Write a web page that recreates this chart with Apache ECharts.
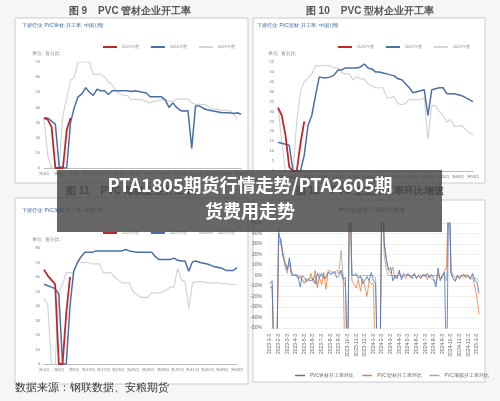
<!DOCTYPE html>
<html><head><meta charset="utf-8">
<script src="https://cdn.jsdelivr.net/npm/echarts@6/dist/echarts.min.js"></script>
<style>html,body{margin:0;padding:0;background:#f6f6f6}#c{width:500px;height:401px}</style>
</head><body><div id="c"></div>
<script>
const weeks = Array.from({length:53},(_,i)=>'第'+(i+1)+'周');
const seriesNames = ['2025年度','2024年度','2023年度'];
// Fig 9 PVC pipe
const red1 = [33,32,27,0,0,0,25,33];
const blue1 = [33,33,31,29,1,0,0,30,40,47,49,53,50,48,52,51,51,48.5,51,51,51,51,51,50.5,51,50.5,50,49.5,47,47,47,47,45,40,43,40,38,37.5,38,13,41,41,39.5,38.5,38,37.5,37,36.5,36.5,36.5,36,36.5,35.5];
const gray1 = [33,8,0,0,0,35,46,58,60,70,70,70,70,62,62,62,60,57,55,51,49,48,48,45,45.5,45,45,44,43,44,44.5,45,45,44,44,45.5,45.5,45.5,45.5,43,42,42,42,41.5,39,39,38.5,38,38,38,36,32];
// Fig 10 PVC profile
const red2 = [32,28,18,2,0,0,14,25];
const blue2 = [14.5,14,13.5,13,0,0,0,8,23,28,38,47.5,47,47,47.5,48.5,51,51,52,52,52,52,52.5,54,52,51.5,50,50,49.5,49,48.5,48,46.5,46,44,42,39.5,40,40.5,41,28,41,41.5,42,42,39,39,39,38.5,38,37,36,35];
const gray2 = [32,15,0,0,0,25,40,45,47,49,53,53,53.5,53,53,52,52,49.5,49,49,46,47.5,46.5,46.5,44,43,42,42,42,37,37,37.5,34,33.5,34,36,36,36,36,37,16,33,33,30,28,24.5,26,22.5,22.5,23,21,19.5,18];
// Fig 11 PVC film
const red3 = [65,61,58,55,0,0,35,60];
const blue3 = [55,54,53,52,48,0,0,40,64,70,74,77,77,77,78,78,78,78,78,78,78,78,79,78,77.5,77,77,77,77,77,74,72,72,72,72,73,71.5,71,71,64,70.5,71,70,69.5,69,68,67,66.5,66,64.5,64.5,64.5,66.5];
const gray3 = [45,41,0,0,50,55,63,63,63,70,70,70,70,69,69,69,63,63,63,60,58,56,56,56,50,48,46,46,46,49,49,49,50,51,53,53,66,58,57,38,56,56.5,57,56.5,56,56,56,56,55.5,55.5,55,55,54.5];
// Fig 12 week-on-week change
const months = ['2023-1-3','2023-2-3','2023-3-3','2023-4-3','2023-5-3','2023-6-3','2023-7-3','2023-8-3','2023-9-3','2023-10-3','2023-11-3','2023-12-3','2024-1-3','2024-2-3','2024-3-3','2024-4-3','2024-5-3','2024-6-3','2024-7-3','2024-8-3','2024-9-3','2024-10-3','2024-11-3','2024-12-3','2025-1-3'];
const chgNames = ['PVC管材开工率环比','PVC型材开工率环比','PVC薄膜开工率环比'];
const chgPipe = [-8,-5,-100,-100, 40,33,18,12, 5,17,2,0, 1,0,-11,0, -2,-6,-4,-5, -3,-8,2,-2, 2,-3,-1,3, 1,2,3,-2, 0,5,-3,-2, -100,100,1,0, 2,-3,0,-8, -5,-1,-5,3, -5,-8,-100,-100, 100,30,15,5, 8,-5,0,-3, 5,-4,2,0, 1,0,-3,2, -2,0,-3,1, -1,2,-2,1, -3,-11,7,-5, 0,3,-100,100, 2,-3,-5,0, -3,0,1,-2, 0,-3,2,-5, -6,-17];
const chgProfile = [-12,-10,-100,-100, 30,35,22,12, 8,10,3,0, 0,-2,0,-5, -8,-3,-5,2, -6,5,-10,-2, -9,3,-13,5, 4,2,3,5, 3,2,-5,-100, -100,100,-5,-8, -12,-4,-15,-3, -10,-20,-5,-8, -8,-100,-100,-100, 100,33,15,5, 2,8,-3,0, 3,-2,0,-3, 2,-2,0,1, -3,0,-2,0, 1,-4,0,-3, -5,-8,2,-3, -2,5,8,100, 3,-2,-6,0, -3,0,-2,1, -1,-4,-2,-10, -20,-37];
const chgFilm = [-12,-10,-100,-100, 45,30,20,8, 2,15,0,0, 0,-3,-2,-4, -6,-4,-3,-2, -4,0,-12,2, 0,-2,-3,3, 2,4,3,2, 3,24,-3,-12, -100,100,0,0, 0,0,-2,0, 0,0,0,0, 0,-2,-100,-100, 100,20,5,0, 0,0,0,0, 0,0,-1,0, 0,0,0,0, -2,0,0,0, 0,-1,0,0, 0,0,0,-2, 0,0,-5,100, 5,0,-2,0, 0,0,0,0, 0,-2,0,-3, -3,-5];
const chgCats = [];
months.forEach(m=>{for(let k=0;k<4;k++) chgCats.push(k===0?m:m+'#'+k);});
chgCats.length = chgPipe.length;

const cRed='#c0272d', cBlue='#4a6fa5', cGray='#d4d4d4';
const lab = {fontSize:4,color:'#777',margin:4};
function wkX(gi){return {type:'category',gridIndex:gi,data:weeks,boundaryGap:false,axisTick:{show:false},axisLine:{lineStyle:{color:'#bbb'}},axisLabel:Object.assign({interval:3,hideOverlap:false},lab)};}
function wkY(gi,max,iv){return {type:'value',gridIndex:gi,min:0,max:max,interval:iv,splitLine:{show:false},axisLine:{show:false},axisTick:{show:false},axisLabel:lab};}
function ln(name,gi,data,color,w){return {name:name,type:'line',xAxisIndex:gi,yAxisIndex:gi,data:data,showSymbol:false,lineStyle:{color:color,width:w},itemStyle:{color:color}};}
const leg = (l,t)=>({left:l,top:t,data:seriesNames,itemWidth:14,itemHeight:2,itemGap:12,textStyle:{fontSize:4,color:'#888'},icon:'rect'});

const chart = echarts.init(document.getElementById('c'));
chart.setOption({
  animation:false,
  backgroundColor:'#f6f6f6',
  grid:[
    {left:44,right:259,top:62,bottom:233},
    {left:278,right:27,top:62,bottom:230},
    {left:44,right:263,top:248,bottom:37},
    {left:270,right:21,top:223,bottom:73}
  ],
  legend:[leg(98,40),leg(333,40),leg(98,226),
    {left:290,top:368,width:200,data:chgNames,itemWidth:10,itemHeight:1.5,itemGap:8,textStyle:{fontSize:4.5,color:'#666'},icon:'rect'}],
  xAxis:[wkX(0),wkX(1),wkX(2),
    {type:'category',gridIndex:3,data:chgCats,boundaryGap:false,axisTick:{show:false},axisLine:{show:false},
     axisLabel:{interval:3,rotate:90,fontSize:5,color:'#666',margin:6,formatter:v=>v.split('#')[0]}}],
  yAxis:[wkY(0,70,10),wkY(1,55,5),wkY(2,80,10),
    {type:'value',gridIndex:3,min:-50,max:50,interval:10,axisLine:{show:false},axisTick:{show:false},
     splitLine:{lineStyle:{color:'#eee'}},axisLabel:{fontSize:5,color:'#666',formatter:'{value}%'}}],
  series:[
    ln('2023年度',0,gray1,cGray,1.2), ln('2024年度',0,blue1,cBlue,1.5), ln('2025年度',0,red1,cRed,1.8),
    ln('2023年度',1,gray2,cGray,1.2), ln('2024年度',1,blue2,cBlue,1.5), ln('2025年度',1,red2,cRed,1.8),
    ln('2023年度',2,gray3,cGray,1.2), ln('2024年度',2,blue3,cBlue,1.5), ln('2025年度',2,red3,cRed,1.8),
    ln(chgNames[2],3,chgFilm,'#a5a5a5',0.8), ln(chgNames[1],3,chgProfile,'#ed7d31',0.8), ln(chgNames[0],3,chgPipe,'#4472c4',0.8)
  ],
  graphic:[
    {type:'rect',shape:{x:15,y:18,width:233,height:165},style:{fill:'#fff',stroke:'#ccc',lineWidth:1},z:-10},
    {type:'rect',shape:{x:253,y:18,width:232,height:165},style:{fill:'#fff',stroke:'#ccc',lineWidth:1},z:-10},
    {type:'rect',shape:{x:15,y:198,width:233,height:186},style:{fill:'#fff',stroke:'#ccc',lineWidth:1},z:-10},
    {type:'rect',shape:{x:253,y:200,width:232,height:182},style:{fill:'#fff',stroke:'#ccc',lineWidth:1},z:-10},
    {type:'text',x:130,y:6,style:{text:'图 9    PVC 管材企业开工率',fontSize:10,fontWeight:'bold',fill:'#555',align:'center'}},
    {type:'text',x:370,y:6,style:{text:'图 10    PVC 型材企业开工率',fontSize:10,fontWeight:'bold',fill:'#555',align:'center'}},
    {type:'text',x:130,y:186,style:{text:'图 11    PVC 薄膜企业开工率',fontSize:10,fontWeight:'bold',fill:'#555',align:'center'}},
    {type:'text',x:370,y:186,style:{text:'图 12    PVC 企业开工率环比增速',fontSize:10,fontWeight:'bold',fill:'#555',align:'center'}},
    {type:'text',x:22,y:23,style:{text:'下游行业: PVC管材: 开工率: 中国 (周)',fontSize:4.5,fill:'#2a5a9a'}},
    {type:'text',x:257,y:23,style:{text:'下游行业: PVC型材: 开工率: 中国 (周)',fontSize:4.5,fill:'#2a5a9a'}},
    {type:'text',x:22,y:208,style:{text:'下游行业: PVC薄膜: 开工率: 中国 (周)',fontSize:4.5,fill:'#2a5a9a'}},
    {type:'text',x:32,y:51,style:{text:'单位: 百分比',fontSize:4.5,fill:'#888'}},
    {type:'text',x:268,y:51,style:{text:'单位: 百分比',fontSize:4.5,fill:'#888'}},
    {type:'text',x:32,y:237,style:{text:'单位: 百分比',fontSize:4.5,fill:'#888'}},
    {type:'text',x:372,y:207,style:{text:'PVC企业开工率环比增速',fontSize:6,fill:'#555',align:'center'}},
    {type:'text',x:15,y:382,style:{text:'数据来源：钢联数据、安粮期货',fontSize:11,fill:'#333'}},
    {type:'rect',shape:{x:57,y:170,width:385,height:62},style:{fill:'rgba(70,70,70,0.82)'},z:100},
    {type:'text',x:250,y:176,style:{text:'PTA1805期货行情走势/PTA2605期',fontSize:18,fontWeight:'bold',fill:'#fff',align:'center',fontFamily:'Noto Sans CJK SC'},z:101},
    {type:'text',x:250,y:202,style:{text:'货费用走势',fontSize:18,fontWeight:'bold',fill:'#fff',align:'center',fontFamily:'Noto Sans CJK SC'},z:101}
  ]
});
</script></body></html>
